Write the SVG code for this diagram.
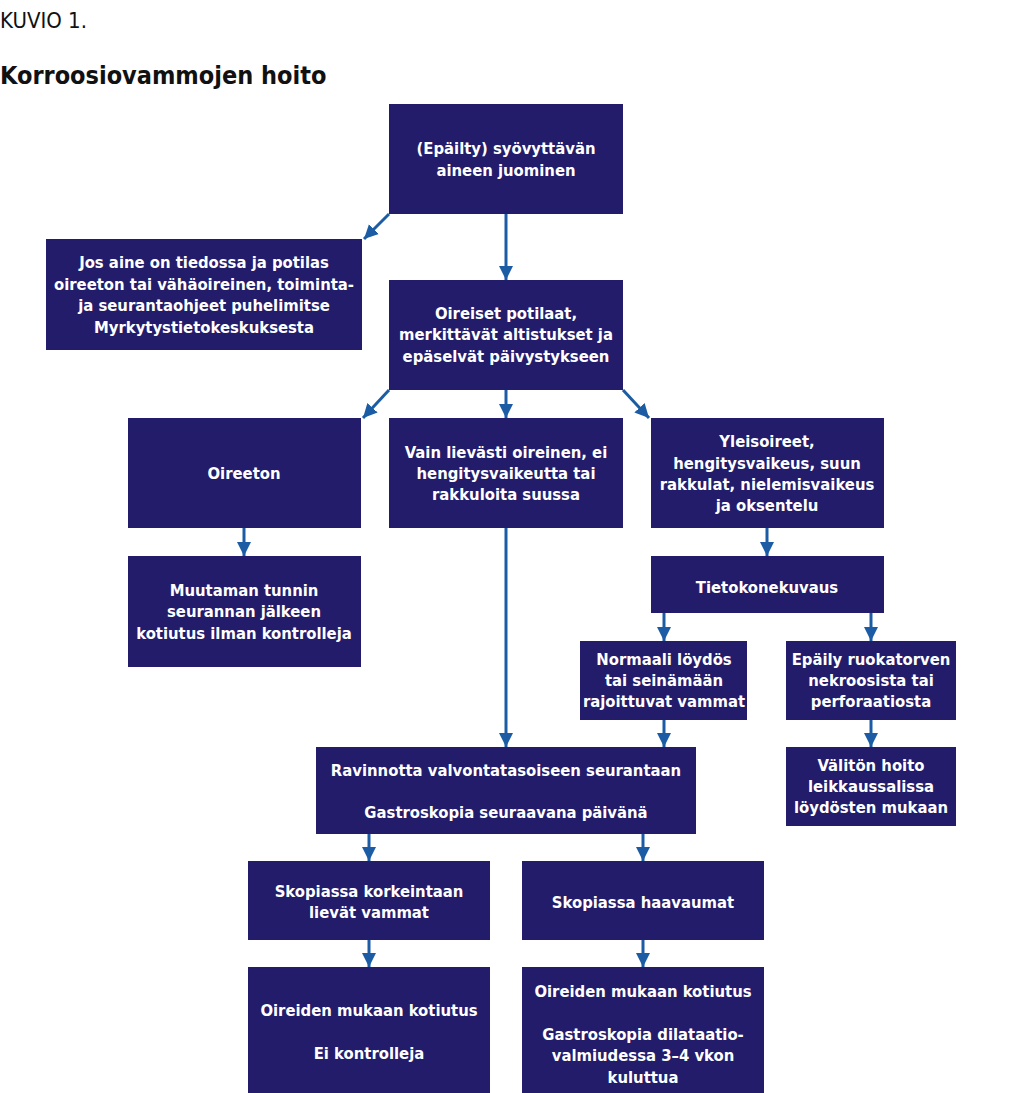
<svg xmlns="http://www.w3.org/2000/svg" width="1024" height="1093" viewBox="0 0 1024 1093">
<defs>
<marker id="ah" markerUnits="userSpaceOnUse" markerWidth="15" markerHeight="15" viewBox="0 0 15 15" refX="14" refY="7.5" orient="auto">
<path d="M0,0.5 L14,7.5 L0,14.5 Z" fill="#1b5ca4"/>
</marker>
<style>
.b{fill:#221c6b}
.t{font-family:"DejaVu Sans Condensed","DejaVu Sans",sans-serif;font-stretch:condensed;font-weight:bold;font-size:16.5px;fill:#ffffff;text-anchor:middle}
.c line{stroke:#1b5ca4;stroke-width:3;marker-end:url(#ah)}
</style>
</defs>
<rect width="1024" height="1093" fill="#ffffff"/>
<text x="0" y="28" style="font-family:'DejaVu Sans Condensed','DejaVu Sans',sans-serif;font-stretch:condensed;font-size:22px;font-weight:300;fill:#111">KUVIO 1.</text>
<text x="0" y="84" style="font-family:'DejaVu Sans Condensed','DejaVu Sans',sans-serif;font-stretch:condensed;font-size:25px;font-weight:bold;fill:#111">Korroosiovammojen hoito</text>

<g id="n1"><rect class="b" x="389" y="104" width="234" height="110"/><text class="t" x="506"><tspan x="506" y="154">(Epäilty) syövyttävän</tspan><tspan x="506" y="176">aineen juominen</tspan></text></g>
<g id="n2"><rect class="b" x="46" y="239" width="316" height="111"/><text class="t"><tspan x="204" y="268">Jos aine on tiedossa ja potilas</tspan><tspan x="204" y="290">oireeton tai vähäoireinen, toiminta-</tspan><tspan x="204" y="311">ja seurantaohjeet puhelimitse</tspan><tspan x="204" y="333">Myrkytystietokeskuksesta</tspan></text></g>
<g id="n3"><rect class="b" x="389" y="280" width="234" height="110"/><text class="t"><tspan x="506" y="319">Oireiset potilaat,</tspan><tspan x="506" y="340">merkittävät altistukset ja</tspan><tspan x="506" y="362">epäselvät päivystykseen</tspan></text></g>
<g id="n4"><rect class="b" x="128" y="418" width="233" height="110"/><text class="t"><tspan x="244" y="479">Oireeton</tspan></text></g>
<g id="n5"><rect class="b" x="389" y="418" width="234" height="110"/><text class="t"><tspan x="506" y="458">Vain lievästi oireinen, ei</tspan><tspan x="506" y="479">hengitysvaikeutta tai</tspan><tspan x="506" y="500">rakkuloita suussa</tspan></text></g>
<g id="n6"><rect class="b" x="651" y="418" width="233" height="110"/><text class="t"><tspan x="767" y="447">Yleisoireet,</tspan><tspan x="767" y="469">hengitysvaikeus, suun</tspan><tspan x="767" y="490">rakkulat, nielemisvaikeus</tspan><tspan x="767" y="511">ja oksentelu</tspan></text></g>
<g id="n7"><rect class="b" x="128" y="556" width="233" height="111"/><text class="t"><tspan x="244" y="596">Muutaman tunnin</tspan><tspan x="244" y="617">seurannan jälkeen</tspan><tspan x="244" y="639">kotiutus ilman kontrolleja</tspan></text></g>
<g id="n8"><rect class="b" x="651" y="556" width="233" height="57"/><text class="t"><tspan x="767" y="593">Tietokonekuvaus</tspan></text></g>
<g id="n9"><rect class="b" x="580" y="641" width="167" height="79"/><text class="t"><tspan x="664" y="665">Normaali löydös</tspan><tspan x="664" y="686">tai seinämään</tspan><tspan x="664" y="707">rajoittuvat vammat</tspan></text></g>
<g id="n10"><rect class="b" x="786" y="641" width="170" height="79"/><text class="t"><tspan x="871" y="665">Epäily ruokatorven</tspan><tspan x="871" y="686">nekroosista tai</tspan><tspan x="871" y="707">perforaatiosta</tspan></text></g>
<g id="n11"><rect class="b" x="786" y="747" width="170" height="79"/><text class="t"><tspan x="871" y="771">Välitön hoito</tspan><tspan x="871" y="792">leikkaussalissa</tspan><tspan x="871" y="813">löydösten mukaan</tspan></text></g>
<g id="n12"><rect class="b" x="316" y="747" width="380" height="87"/><text class="t"><tspan x="506" y="776">Ravinnotta valvontatasoiseen seurantaan</tspan><tspan x="506" y="818">Gastroskopia seuraavana päivänä</tspan></text></g>
<g id="n13"><rect class="b" x="248" y="861" width="242" height="79"/><text class="t"><tspan x="369" y="897">Skopiassa korkeintaan</tspan><tspan x="369" y="918">lievät vammat</tspan></text></g>
<g id="n14"><rect class="b" x="522" y="861" width="242" height="79"/><text class="t"><tspan x="643" y="908">Skopiassa haavaumat</tspan></text></g>
<g id="n15"><rect class="b" x="248" y="967" width="242" height="126"/><text class="t"><tspan x="369" y="1016">Oireiden mukaan kotiutus</tspan><tspan x="369" y="1059">Ei kontrolleja</tspan></text></g>
<g id="n16"><rect class="b" x="522" y="967" width="242" height="126"/><text class="t"><tspan x="643" y="997">Oireiden mukaan kotiutus</tspan><tspan x="643" y="1040">Gastroskopia dilataatio-</tspan><tspan x="643" y="1061">valmiudessa 3–4 vkon</tspan><tspan x="643" y="1083">kuluttua</tspan></text></g>

<g id="connectors" class="c">
<line x1="389" y1="214" x2="364" y2="239"/>
<line x1="506" y1="214" x2="506" y2="280"/>
<line x1="389" y1="390" x2="363" y2="418"/>
<line x1="506" y1="390" x2="506" y2="418"/>
<line x1="623" y1="390" x2="649" y2="418"/>
<line x1="244" y1="528" x2="244" y2="556"/>
<line x1="767" y1="528" x2="767" y2="556"/>
<line x1="664" y1="613" x2="664" y2="641"/>
<line x1="871" y1="613" x2="871" y2="641"/>
<line x1="871" y1="720" x2="871" y2="747"/>
<line x1="506" y1="528" x2="506" y2="747"/>
<line x1="664" y1="720" x2="664" y2="747"/>
<line x1="369" y1="834" x2="369" y2="861"/>
<line x1="643" y1="834" x2="643" y2="861"/>
<line x1="369" y1="940" x2="369" y2="967"/>
<line x1="643" y1="940" x2="643" y2="967"/>
</g>
</svg>
